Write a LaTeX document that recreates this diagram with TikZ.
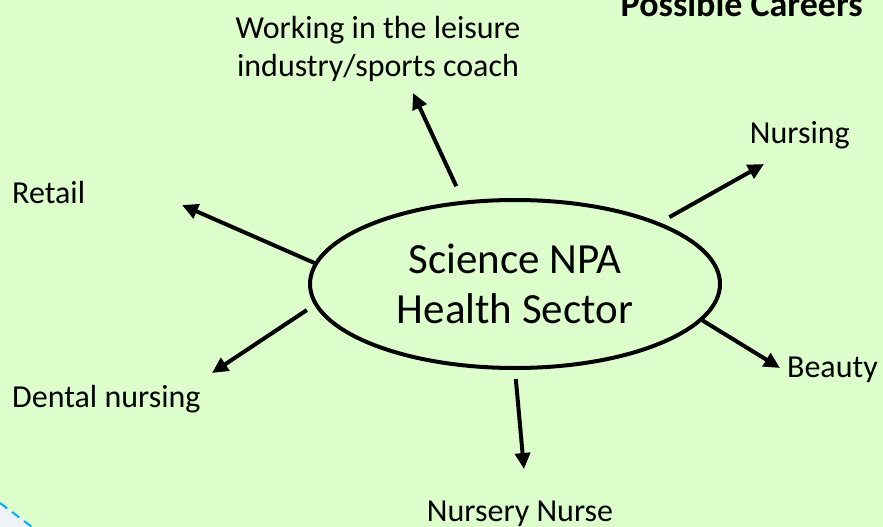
\documentclass[tikz,border=0pt]{standalone}
\usepackage{fontspec}
\setmainfont{Carlito}
\usetikzlibrary{shapes.geometric,arrows.meta}
\definecolor{paleg}{RGB}{221,255,204}
\definecolor{dashc}{RGB}{0,176,240}
\definecolor{cornr}{RGB}{238,243,249}
\begin{document}
\begin{tikzpicture}[x=1pt,y=-1pt]
\tikzset{ >={Triangle[length=16pt,width=15pt]}, lbl/.style={font=\fontsize{32}{38}\selectfont, inner sep=0pt}, arr/.style={->, line width=4pt}, }

\useasboundingbox (0,0) rectangle (883,527);
\clip (0,0) rectangle (883,527);
\fill [paleg] (0,0) rectangle (883,527);

% corner of the next shape
\fill [cornr] (0,503) -- (32,527) -- (0,527) -- cycle;
\draw [dashc, line width=2pt, dash pattern=on 9pt off 6pt] (0,503) -- (32,527);

\node [draw, ellipse, line width=4pt, minimum width=410pt, minimum height=168pt, inner sep=0pt, align=center, font=\fontsize{43}{50}\selectfont] (H) at (515,284) {Science NPA\\Health Sector};

\node [lbl, anchor=base, align=center] (W) at (378,77) {Working in the leisure\\industry/sports coach};
\node [lbl, anchor=base west] (R) at (12,203) {Retail};
\node [lbl, anchor=base west] (D) at (12,407) {Dental nursing};
\node [lbl, anchor=base east] (N) at (850,143) {Nursing};
\node [lbl, anchor=base east] (B) at (878,377) {Beauty};
\node [lbl, anchor=base] (NN) at (520,521) {Nursery Nurse};
\node [lbl, anchor=base east, font=\bfseries\fontsize{36}{40}\selectfont] (P) at (863,17) {Possible Careers};

\coordinate (tw) at (413,93);
\coordinate (tn) at (764,164);
\coordinate (tb) at (780,368);
\coordinate (tnn) at (524,469);
\coordinate (tr) at (182,205);
\coordinate (td) at (212,373);

\draw [arr, shorten <=16pt] (H.122) -- (tw);
\draw [arr, shorten <=11pt] (H.23) -- (tn);
\draw [arr] (H.-11) -- (tb);
\draw [arr, shorten <=9pt] (H.270) -- (tnn);
\draw [arr] (H.174) -- (tr);
\draw [arr, shorten <=9pt] (H.186) -- (td);
\end{tikzpicture}
\end{document}
